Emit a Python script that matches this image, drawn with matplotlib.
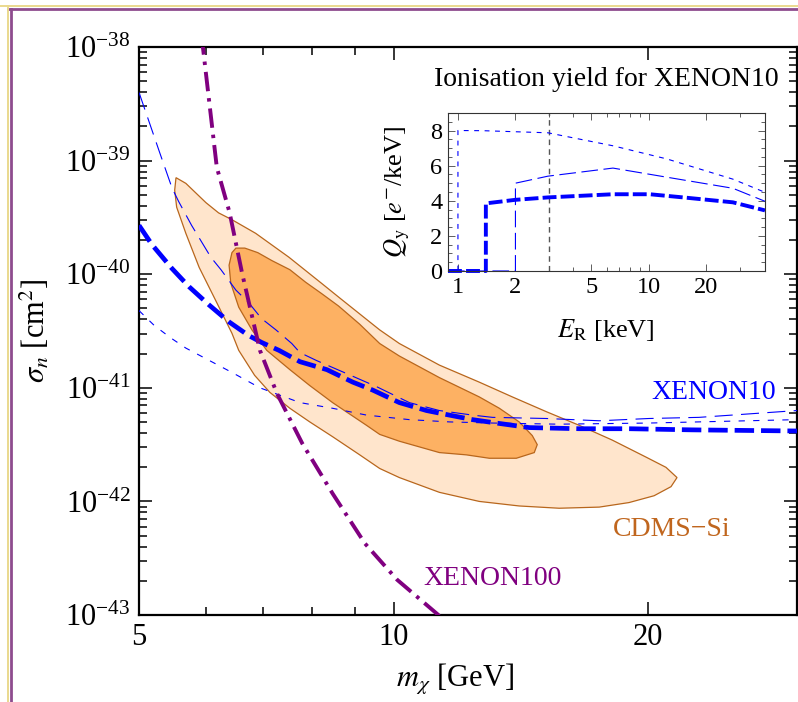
import numpy as np
import matplotlib
matplotlib.use('Agg')
import matplotlib.pyplot as plt
from matplotlib.lines import Line2D

plt.rcParams['font.family'] = ['Liberation Serif', 'DejaVu Serif']
plt.rcParams['mathtext.fontset'] = 'stix'
plt.rcParams['lines.scale_dashes'] = False

# main panel: m_chi [GeV] vs log10(sigma_n / cm^2)
# XENON100 (dash-dot)
x100 = [5.90, 5.95, 6.18, 6.40, 6.62, 6.95, 7.28, 7.80, 8.47, 9.25, 10.1, 11.3, 11.6]
y100 = [-37.9, -38.0, -39.06, -39.46, -39.99, -40.67, -41.05, -41.49, -41.93, -42.37, -42.69, -43.0, -43.1]

# XENON10, three ionisation yield choices
x10_thick = [5.0, 5.18, 5.47, 5.73, 6.05, 6.39, 6.74, 6.98, 7.32, 7.75, 8.34, 8.95, 9.45, 10.16,
             10.94, 11.64, 12.40, 13.23, 14.47, 16.58, 18.99, 22.54, 30.0]
y10_thick = [-39.57, -39.74, -39.95, -40.11, -40.27, -40.42, -40.54, -40.60, -40.67, -40.77, -40.84,
             -40.95, -41.02, -41.13, -41.20, -41.24, -41.28, -41.31, -41.35, -41.36, -41.36, -41.37, -41.38]
x10_long = [5.0, 5.29, 5.47, 5.57, 5.77, 5.89, 6.08, 6.25, 6.51, 6.74, 6.98, 7.26, 7.58, 7.75, 8.11,
            8.71, 9.55, 10.44, 11.33, 12.40, 13.09, 15.16, 17.51, 20.05, 22.97, 25.13, 30.0]
y10_long = [-38.40, -38.93, -39.24, -39.36, -39.57, -39.68, -39.85, -39.96, -40.14, -40.25, -40.39,
            -40.49, -40.61, -40.69, -40.76, -40.86, -40.99, -41.13, -41.20, -41.24, -41.26, -41.27,
            -41.29, -41.27, -41.26, -41.24, -41.20]
x10_short = [5.0, 5.21, 5.45, 5.68, 6.46, 6.95, 7.75, 8.47, 9.29, 10.44, 11.64, 13.09, 15.70, 20.05, 30.0]
y10_short = [-40.32, -40.45, -40.56, -40.65, -40.87, -41.00, -41.13, -41.18, -41.24, -41.28, -41.30,
             -41.31, -41.32, -41.31, -41.28]

# CDMS-Si regions (outline)
cdms_outer_x = [5.53, 5.68, 6.00, 6.21, 6.44, 6.87, 7.52, 8.22, 8.64, 9.63, 10.16, 11.33, 12.63, 13.82,
                15.16, 16.58, 18.14, 19.89, 21.00, 21.64, 21.29, 20.33, 18.99, 17.51, 15.70, 14.08,
                12.63, 11.33, 10.16, 9.63, 9.12, 8.47, 7.96, 7.54, 7.14, 6.85, 6.56, 6.44, 6.16,
                5.89, 5.68, 5.54, 5.51]
cdms_outer_y = [-39.15, -39.20, -39.37, -39.46, -39.52, -39.64, -39.85, -40.08, -40.21, -40.49, -40.61,
                -40.80, -40.95, -41.08, -41.21, -41.33, -41.46, -41.61, -41.70, -41.79, -41.87, -41.95,
                -42.01, -42.05, -42.06, -42.04, -42.00, -41.92, -41.79, -41.71, -41.59, -41.43, -41.30,
                -41.18, -41.04, -40.89, -40.67, -40.52, -40.23, -39.94, -39.64, -39.41, -39.26]
cdms_inner_x = [6.51, 6.67, 6.91, 7.18, 7.54, 7.87, 8.22, 8.61, 9.12, 9.63, 10.16, 11.33, 12.63, 13.34,
                14.08, 14.59, 14.79, 14.67, 13.97, 12.98, 12.19, 11.33, 10.16, 9.63, 9.29, 8.47, 7.96,
                7.54, 7.08, 6.80, 6.56, 6.42, 6.39, 6.44]
cdms_inner_y = [-39.77, -39.77, -39.81, -39.88, -39.96, -40.07, -40.17, -40.28, -40.44, -40.61, -40.72,
                -40.91, -41.08, -41.18, -41.30, -41.42, -41.50, -41.57, -41.62, -41.62, -41.59, -41.57,
                -41.47, -41.41, -41.33, -41.13, -40.98, -40.84, -40.67, -40.49, -40.29, -40.08, -39.92,
                -39.81]

# inset: ionisation yield Q_y [e-/keV] vs E_R [keV]
er_thick = [0.887, 1.40, 1.40, 1.99, 2.96, 6.48, 10.1, 15.1, 27.5, 40.5]
qy_thick = [0, 0, 3.85, 4.05, 4.19, 4.37, 4.37, 4.19, 3.91, 3.45]
er_long = [0.887, 2.0, 2.0, 2.96, 6.48, 12.42, 27.5, 40.5]
qy_long = [0, 0, 5.0, 5.40, 5.86, 5.34, 4.71, 3.97]
er_short = [0.887, 1.0, 1.0, 1.35, 2.96, 6.48, 12.42, 27.5, 40.5]
qy_short = [0, 0, 8.0, 7.99, 7.87, 7.13, 6.38, 5.23, 4.48]
er_threshold = 3.0

blue = '#0000FF'
purple = '#800080'
orange_edge = '#B8661C'

fig = plt.figure(figsize=(7.98, 7.02), dpi=100)
ax = fig.add_axes([0.1742, 0.1239, 0.8245, 0.8091])

ax.fill(cdms_outer_x, 10.0 ** np.array(cdms_outer_y), facecolor='#FFE5CC', edgecolor=orange_edge, lw=0.9, zorder=1)
ax.fill(cdms_inner_x, 10.0 ** np.array(cdms_inner_y), facecolor='#FDB163', edgecolor=orange_edge, lw=0.9, zorder=2)

ax.plot(x10_short, 10.0 ** np.array(y10_short), color=blue, lw=0.8, dashes=[4.5, 6], zorder=3)
ax.plot(x10_long, 10.0 ** np.array(y10_long), color=blue, lw=0.8, dashes=[13, 6], zorder=3)
ax.plot(x10_thick, 10.0 ** np.array(y10_thick), color=blue, lw=3.4, dashes=[14, 5], zorder=4)
ax.plot(x100, 10.0 ** np.array(y100), color=purple, lw=2.8, dashes=[14, 5, 2.5, 5], zorder=5)

ax.set_xscale('log')
ax.set_yscale('log')
ax.set_xlim(5, 30)
ax.set_ylim(1e-43, 1e-38)
ax.set_xticks([5, 10, 20])
ax.set_xticklabels(['5', '10', '20'])
ax.set_xticks([6, 7, 8, 9], minor=True)
ax.xaxis.set_minor_formatter(matplotlib.ticker.NullFormatter())
ax.yaxis.set_major_locator(matplotlib.ticker.LogLocator(base=10, numticks=10))
ax.yaxis.set_minor_locator(matplotlib.ticker.LogLocator(base=10, subs=np.arange(2, 10), numticks=20))
ax.yaxis.set_minor_formatter(matplotlib.ticker.NullFormatter())
ax.tick_params(which='both', direction='in', top=True, right=True, width=1.1, labelsize=22)
ax.tick_params(which='major', length=9.5, pad=6)
ax.tick_params(which='minor', length=5.5)
for s in ax.spines.values():
    s.set_linewidth(1.6)

ax.set_xlabel(r'$m_\chi$ [GeV]', fontsize=22, va='center')
ax.xaxis.set_label_coords(0.48, -0.114)
ax.set_ylabel(r'$\sigma_n$ [cm$^2$]', fontsize=22, va='center')
ax.yaxis.set_label_coords(-0.158, 0.5)

ax.text(23.9, 10 ** -41.04, 'XENON10', color=blue, fontsize=20, ha='center', va='center')
ax.text(21.35, 10 ** -42.25, 'CDMS\u2212Si', color='#C0661E', fontsize=20, ha='center', va='center')
ax.text(13.1, 10 ** -42.68, 'XENON100', color=purple, fontsize=20, ha='center', va='center')

# inset
ins = fig.add_axes([0.5614, 0.6140, 0.3972, 0.2251])
ins.axvline(er_threshold, color='#555555', lw=1.0, dashes=[4, 3])
ins.plot(er_short, qy_short, color=blue, lw=0.8, dashes=[3.5, 4], clip_on=False)
ins.plot(er_long, qy_long, color=blue, lw=0.8, dashes=[12, 4], clip_on=False)
ins.plot(er_thick, qy_thick, color=blue, lw=2.8, dashes=[10, 3], clip_on=False)
ins.set_xscale('log')
ins.set_xlim(0.887, 40.5)
ins.set_ylim(0, 9)
ins.set_xticks([1, 2, 5, 10, 20])
ins.set_xticklabels(['1', '2', '5', '10', '20'])
ins.set_xticks([3, 4, 6, 7, 8, 9, 30], minor=True)
ins.xaxis.set_minor_formatter(matplotlib.ticker.NullFormatter())
ins.set_yticks([0, 2, 4, 6, 8])
ins.set_yticks(np.arange(0, 9.1, 0.5), minor=True)
ins.tick_params(which='both', direction='in', top=True, right=True, width=0.6, labelsize=17.5, color='#444444')
ins.tick_params(which='major', length=5, pad=4)
ins.tick_params(which='minor', length=3)
for s in ins.spines.values():
    s.set_linewidth(0.8)
    s.set_color('#333333')
ins.set_xlabel(r'$E_\mathrm{R}$ [keV]', fontsize=19, va='center')
ins.xaxis.set_label_coords(0.498, -0.373)
ins.set_ylabel(r'$Q_\mathrm{y}$ [$e^{-}$/keV]', fontsize=19, va='center')
ins.yaxis.set_label_coords(-0.161, 0.5)
ins.text(0.5, 1.21, 'Ionisation yield for XENON10', transform=ins.transAxes, fontsize=20,
         ha='center', va='center')

# decorative frame lines
fig.add_artist(Line2D([0, 1], [1 - 5.5 / 702, 1 - 5.5 / 702], color='#EAD98E', lw=1.4))
fig.add_artist(Line2D([0.0105, 1], [1 - 8.5 / 702, 1 - 8.5 / 702], color='#8E4C8E', lw=2.0))
fig.add_artist(Line2D([8 / 798, 8 / 798], [0, 1 - 5.5 / 702], color='#EAD98E', lw=1.4))
fig.add_artist(Line2D([10.5 / 798, 10.5 / 798], [0, 1 - 8.5 / 702], color='#8E4C8E', lw=2.0))

fig.savefig('out.png', dpi=100)
